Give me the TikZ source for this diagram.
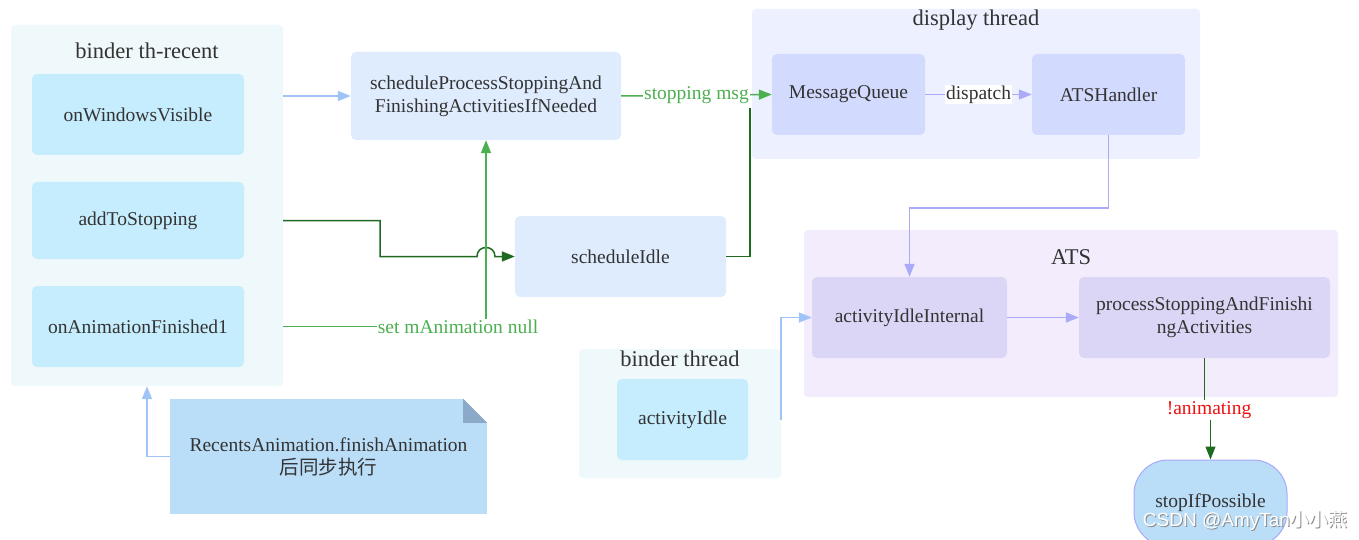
\documentclass[tikz,border=0pt]{standalone}
\usepackage{fontspec}
\setmainfont{Liberation Serif}
\newfontfamily\cjk{Noto Sans CJK SC}
\newfontfamily\wmfont{Liberation Sans}
\usetikzlibrary{arrows.meta,calc}
\definecolor{txt}{HTML}{333333}
\definecolor{grpcyan}{HTML}{EFF8FA}
\definecolor{nodecyan}{HTML}{C6EDFD}
\definecolor{nodeblue}{HTML}{DFECFE}
\definecolor{grpdisp}{HTML}{EDF0FE}
\definecolor{nodedisp}{HTML}{D2DAFD}
\definecolor{grpats}{HTML}{F3ECFD}
\definecolor{nodeats}{HTML}{DCD6F6}
\definecolor{notefill}{HTML}{BBDEF8}
\definecolor{foldc}{HTML}{8BA9C8}
\definecolor{stopborder}{HTML}{A8A8FA}
\definecolor{bluee}{HTML}{A0C4F8}
\definecolor{lave}{HTML}{AAAAF8}
\definecolor{lgreen}{HTML}{4CAF50}
\definecolor{dgreen}{HTML}{1E6B20}
\definecolor{redl}{HTML}{F01010}
\begin{document}
\begin{tikzpicture}[x=1pt,y=-1pt,
  grp/.style={rounded corners=4pt, inner sep=0pt},
  box/.style={rounded corners=5pt, inner sep=0pt, align=center, text=txt,
    font=\fontsize{19.5pt}{23pt}\selectfont},
  gtitle/.style={text=txt, inner sep=0pt, font=\fontsize{22.5pt}{26pt}\selectfont},
  lbl/.style={fill=white, inner sep=1pt, font=\fontsize{19.5pt}{23pt}\selectfont},
  con/.style={line width=1.5pt, -{Triangle[length=13pt,width=10pt]}},
  plain/.style={line width=1.5pt},
  wmstyle/.style={inner sep=0pt, font=\wmfont\fontsize{19pt}{21pt}\selectfont},
]
\useasboundingbox (0,0) rectangle (1359,540);
\fill[white] (0,0) rectangle (1359,540);

% groups
\node[grp, fill=grpcyan, minimum width=272pt, minimum height=361pt] (g1) at (147,205.5) {};
\node[gtitle] (t1) at (147,51) {binder th-recent};
\node[grp, fill=grpdisp, minimum width=448pt, minimum height=150pt] (g2) at (976,84) {};
\node[gtitle] (t2) at (976,20) {display thread};
\node[grp, fill=grpats, minimum width=534pt, minimum height=167pt] (g4) at (1071,313.5) {};
\node[gtitle] (t4) at (1071,257) {ATS};
\node[grp, fill=grpcyan, minimum width=202pt, minimum height=129pt] (g3) at (680,413.5) {};
\node[gtitle] (t3) at (680,359) {binder thread};

% nodes
\node[box, fill=nodecyan, minimum width=212pt, minimum height=81pt] (owv) at (138,114.5) {onWindowsVisible};
\node[box, fill=nodecyan, minimum width=212pt, minimum height=77pt] (ats) at (138,220.5) {addToStopping};
\node[box, fill=nodecyan, minimum width=212pt, minimum height=81pt] (oaf) at (138,326.5) {onAnimationFinished1};
\node[box, fill=nodeblue, minimum width=270pt, minimum height=88pt] (spf) at (486,96) {scheduleProcessStoppingAnd\\FinishingActivitiesIfNeeded};
\node[box, fill=nodeblue, minimum width=211pt, minimum height=81pt] (si) at (620.5,256.5) {scheduleIdle};
\node[box, fill=nodedisp, minimum width=153pt, minimum height=81pt] (mq) at (848.5,94.5) {MessageQueue};
\node[box, fill=nodedisp, minimum width=153pt, minimum height=81pt] (ah) at (1108.5,94.5) {ATSHandler};
\node[box, fill=nodeats, minimum width=195pt, minimum height=81pt] (aii) at (909.5,317.5) {activityIdleInternal};
\node[box, fill=nodeats, minimum width=251pt, minimum height=81pt] (psf) at (1204.5,317.5) {processStoppingAndFinishi\\ngActivities};
\node[box, fill=nodecyan, minimum width=131pt, minimum height=81pt] (ai) at (682.5,419.5) {activityIdle};
\node[box, rounded corners=34pt, fill=notefill, draw=stopborder, line width=1pt, minimum width=153pt, minimum height=86pt] (sip) at (1210.5,503) {stopIfPossible};

% note
\node[box, rounded corners=0pt, fill=notefill, minimum width=317pt, minimum height=115pt] (note) at (328.5,456.5) {RecentsAnimation.finishAnimation\\{\cjk 后同步执行}};
\fill[white] ($(note.north east)+(-24,0)$) -- (note.north east) -- ($(note.north east)+(0,24)$) -- cycle;
\fill[foldc] ($(note.north east)+(-24,0)$) -- ($(note.north east)+(-24,24)$) -- ($(note.north east)+(0,24)$) -- cycle;

% connectors
\draw[con, bluee] (g1.east |- spf.west) -- (spf.west);
\draw[con, dgreen] (g1.east |- ats.east) -- ++(97,0) |- ($(spf.south |- si.west)+(-9,0)$)
  .. controls ($(spf.south |- si.west)+(-9,-12)$) and ($(spf.south |- si.west)+(9,-12)$) .. ($(spf.south |- si.west)+(9,0)$) -- (si.west);
\draw[con, lgreen] (g1.east |- oaf.east) -| (spf.south);
\node[lbl, text=lgreen] (sanl) at (458,327) {set mAnimation null};
\coordinate (mqin) at ($(mq.west)+(-22,14)$);
\draw[plain, dgreen] (si.east) -| (mqin);
\draw[con, lgreen] (spf.east) -- (mq.west) node[lbl, text=lgreen, midway] (smsg) {stopping msg};
\draw[con, lave] (mq.east) -- (ah.west) node[lbl, text=txt, midway] (disp) {dispatch};
\draw[con, lave] (ah.south) -- ++(0,73) -| (aii.north);
\draw[con, bluee] (g3.east |- ai.east) |- (aii.west);
\draw[con, lave] (aii.east) -- (psf.west);
\node[lbl, text=redl] (anim) at (1209,410) {!animating};
\draw[plain, dgreen, line width=1.2pt] (psf.south) -- (psf.south |- anim.north);
\draw[con, dgreen, line width=1.2pt] (sip.north |- anim.south) -- (sip.north);
\draw[con, bluee] (note.west) -- ++(-22,0) -| (g1.south);

% watermark
\node[wmstyle, text=black!45] (wm0) at (1246,521) {CSDN @AmyTan{\cjk 小小燕}};
\node[wmstyle, text=white] (wm) at (1245,520) {CSDN @AmyTan{\cjk 小小燕}};
\end{tikzpicture}
\end{document}
